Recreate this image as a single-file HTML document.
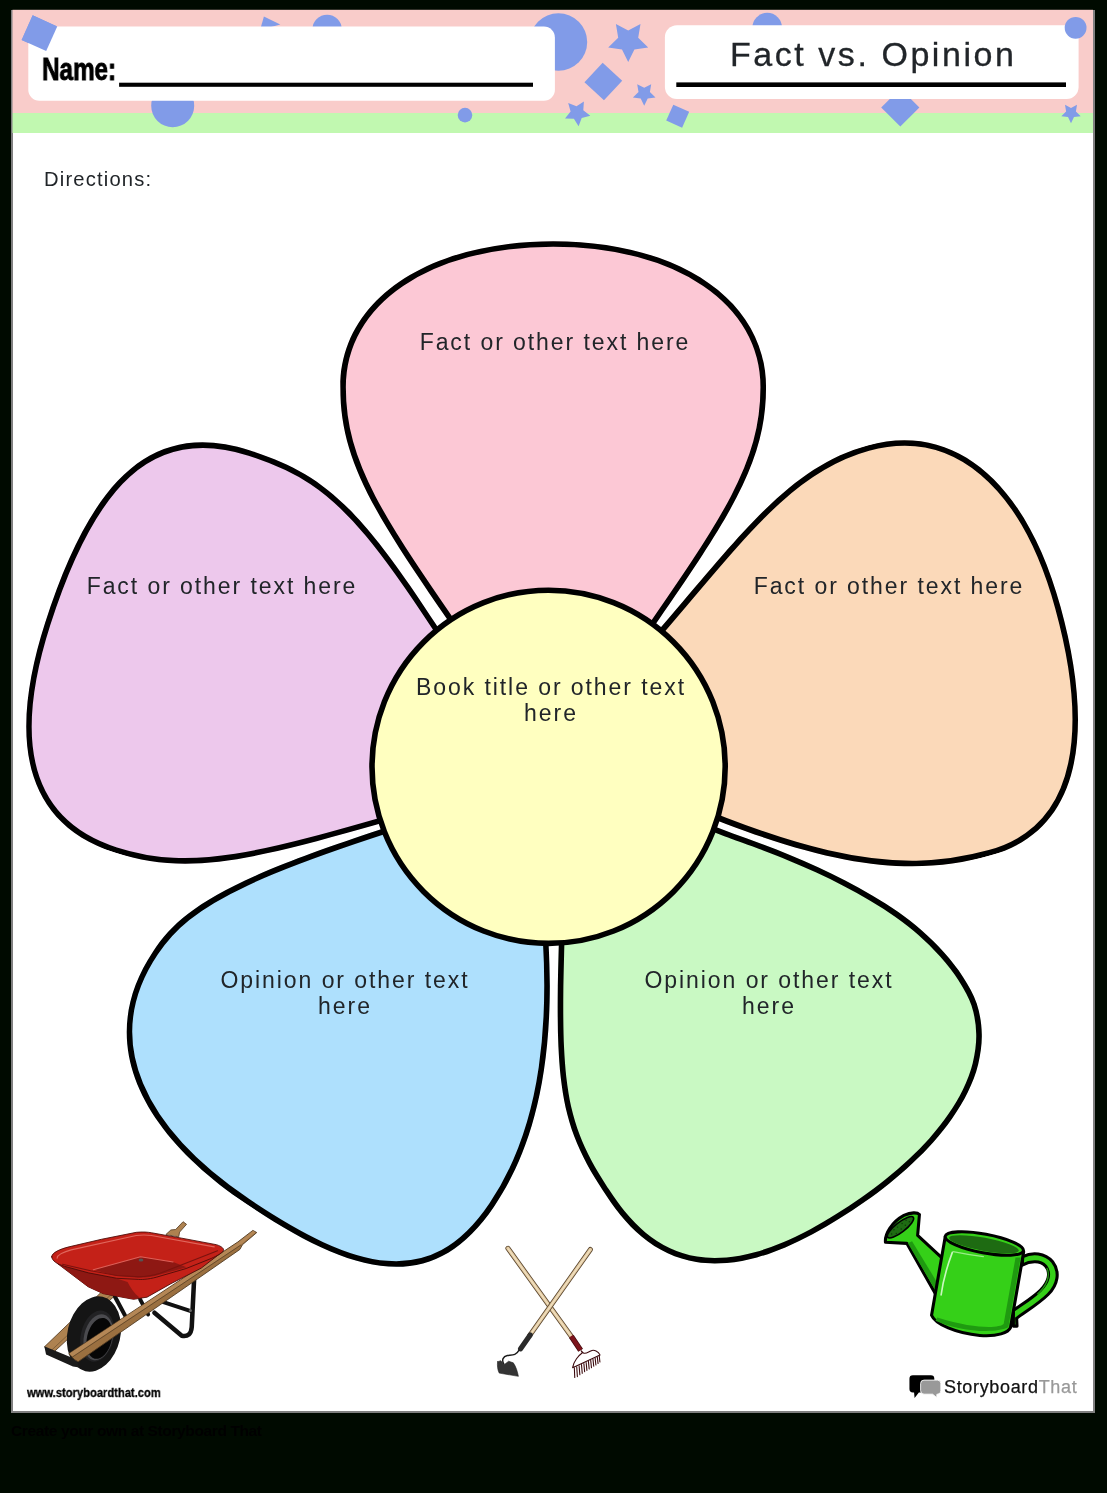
<!DOCTYPE html>
<html><head><meta charset="utf-8"><title>Fact vs. Opinion</title>
<style>
html,body{margin:0;padding:0;background:#000a00;}
body{width:1107px;height:1493px;position:relative;overflow:hidden;font-family:"Liberation Sans",sans-serif;}
#page{position:absolute;left:11px;top:9.8px;width:1084px;height:1403.2px;background:#808080;}
#paper{position:absolute;left:1.5px;top:0;width:1080.5px;height:1401.2px;background:#fff;}
svg{position:absolute;left:0;top:0;}
.t{position:absolute;white-space:nowrap;color:#212529;text-align:center;will-change:transform;}
.pt{font-size:23px;letter-spacing:1.93px;line-height:26px;transform:translateX(-50%);}
</style></head><body>
<div id="page"><div id="paper"></div></div>
<svg width="1107" height="1493" viewBox="0 0 1107 1493">
<defs><clipPath id="ctop"><path d="M0.0,-532.6C124.6,-532.6 212.9,-474.2 212.9,-386.6C212.9,-287.3 150.7,-224.9 0.0,0.0C-150.7,-224.9 -212.9,-287.3 -212.9,-386.6C-212.9,-474.2 -124.6,-532.6 0.0,-532.6Z"/></clipPath><clipPath id="cright"><path d="M0.0,-525.3C119.0,-525.3 221.0,-492.4 221.0,-391.5C221.0,-294.4 180.0,-199.7 0.0,0.0C-118.2,-199.4 -206.9,-275.1 -206.9,-382.1C-206.9,-472.7 -129.4,-525.3 0.0,-525.3Z"/></clipPath><clipPath id="cbr"><path d="M864.5,1202.1C856.3,1207.9 848.1,1213.3 839.5,1218.6C830.9,1224.0 822.0,1229.3 813.0,1234.1C803.9,1238.9 794.6,1243.5 785.3,1247.4C775.9,1251.3 766.7,1254.8 757.0,1257.4C747.3,1260.0 737.0,1262.3 726.9,1263.0C716.7,1263.8 706.1,1263.7 696.2,1262.1C686.4,1260.4 676.7,1257.5 667.7,1253.3C658.6,1249.0 649.7,1243.2 641.8,1236.7C634.0,1230.3 626.8,1222.6 620.4,1214.9C613.9,1207.1 608.5,1198.9 602.9,1190.5C597.4,1182.0 591.8,1173.2 587.0,1164.2C582.2,1155.2 577.7,1145.7 574.2,1136.3C570.6,1126.9 567.9,1117.4 565.6,1107.6C563.4,1097.7 561.9,1087.4 560.7,1077.3C559.5,1067.1 558.9,1056.7 558.4,1046.6C557.9,1036.5 557.8,1026.8 557.7,1016.7C557.6,1006.5 557.7,996.2 557.8,985.9C558.0,975.7 558.2,965.3 558.5,955.2C558.7,945.1 559.1,935.3 559.4,925.2C559.7,915.1 560.1,904.8 560.5,894.5C560.8,884.3 561.2,873.9 561.6,863.8C562.0,853.7 562.4,844.0 562.7,833.9C563.1,823.7 563.5,813.4 563.9,803.1C564.2,792.9 560.6,776.5 565.0,772.4C569.4,768.4 581.2,776.0 590.2,778.9C599.2,781.8 609.4,786.2 618.9,789.8C628.5,793.4 638.2,797.1 647.6,800.8C657.1,804.4 666.2,807.9 675.6,811.5C685.1,815.1 694.7,818.9 704.3,822.6C713.9,826.2 723.5,830.0 733.0,833.5C742.5,837.0 751.7,840.2 761.2,843.8C770.7,847.4 780.4,851.0 789.9,855.0C799.4,858.9 808.9,863.0 818.1,867.3C827.3,871.5 836.2,875.8 845.2,880.5C854.2,885.1 863.4,890.1 872.2,895.4C881.1,900.6 890.0,906.2 898.3,912.1C906.6,918.0 914.5,924.0 922.1,930.7C929.8,937.4 937.3,944.8 944.1,952.5C950.9,960.2 957.6,968.4 963.0,976.9C968.5,985.5 973.6,994.2 976.8,1003.7C979.9,1013.2 981.6,1023.9 981.8,1033.9C982.1,1044.0 980.5,1054.5 978.2,1064.2C975.9,1073.8 972.2,1083.0 967.9,1092.1C963.6,1101.1 958.1,1110.0 952.3,1118.3C946.6,1126.7 939.9,1134.7 933.3,1142.3C926.6,1149.8 919.7,1156.7 912.3,1163.6C905.0,1170.5 897.1,1177.3 889.1,1183.7C881.2,1190.2 872.8,1196.3 864.5,1202.1Z"/></clipPath><clipPath id="cbl"><path d="M0.0,-504.6C124.9,-504.6 218.0,-456.6 218.0,-346.8C218.0,-286.3 190.9,-227.4 0.0,0.0C-181.6,-181.0 -207.3,-298.1 -207.3,-368.5C-207.3,-479.7 -127.8,-504.6 0.0,-504.6Z"/></clipPath><clipPath id="cleft"><path d="M0.0,-513.3C146.6,-513.3 227.3,-476.8 227.3,-370.7C227.3,-268.5 193.1,-225.6 0.0,0.0C-134.7,-207.1 -197.0,-274.5 -197.0,-376.3C-197.0,-483.6 -104.1,-513.3 0.0,-513.3Z"/></clipPath></defs>
<rect x="12.5" y="9.8" width="1080.5" height="103.2" fill="#F9CCCA"/>
<rect x="12.5" y="113" width="1080.5" height="20" fill="#C1F8B0"/>
<g fill="#819BE8"><rect x="26.0" y="19.7" width="26.9" height="26.9" transform="rotate(24.2 39.45 33.1)"/><circle cx="172.7" cy="105.7" r="21.5"/><polygon points="263.9,16.4 280.3,24.5 260.1,30"/><circle cx="327.1" cy="29.4" r="14.7"/><circle cx="465" cy="115.1" r="7.3"/><circle cx="558.4" cy="42" r="28.8"/><polygon points="628.2,61.9 622.0,49.4 608.2,47.4 618.2,37.7 615.9,23.9 628.2,30.4 640.5,23.9 638.2,37.7 648.2,47.4 634.4,49.4"/><rect x="590.0" y="68.2" width="26.7" height="26.7" transform="rotate(43 603.4 81.5)"/><polygon points="644.2,105.7 640.7,98.6 632.9,97.5 638.5,92.0 637.2,84.2 644.2,87.8 651.2,84.2 649.9,92.0 655.5,97.5 647.7,98.6"/><polygon points="578.6,126.3 573.9,118.8 565.0,118.5 570.6,111.6 568.2,103.0 576.5,106.3 583.9,101.4 583.3,110.3 590.3,115.8 581.7,118.0"/><rect x="669.0" y="107.5" width="17.4" height="17.4" transform="rotate(24 677.7 116.2)"/><circle cx="767.2" cy="27.6" r="14.8"/><rect x="886.8" y="94.0" width="27" height="27" transform="rotate(45 900.3 107.5)"/><polygon points="1071.0,123.2 1068.0,117.1 1061.3,116.2 1066.1,111.4 1065.0,104.7 1071.0,107.9 1077.0,104.7 1075.9,111.4 1080.7,116.2 1074.0,117.1"/></g>
<rect x="28.3" y="26.6" width="526.6" height="74.1" rx="11" fill="#fff"/>
<rect x="664.9" y="25.3" width="413.7" height="73.8" rx="12" fill="#fff"/>
<g fill="#819BE8"><circle cx="1075.6" cy="27.8" r="10.9"/><rect x="26.0" y="19.7" width="26.9" height="26.9" transform="rotate(24.2 39.45 33.1)"/></g>
<rect x="119.1" y="82.7" width="413.9" height="4.1" fill="#000"/>
<rect x="676.3" y="82.4" width="389.7" height="4.6" fill="#000"/>
<g transform="translate(553.15,773.8) rotate(0)"><path d="M0.0,-532.6C124.6,-532.6 212.9,-474.2 212.9,-386.6C212.9,-287.3 150.7,-224.9 0.0,0.0C-150.7,-224.9 -212.9,-287.3 -212.9,-386.6C-212.9,-474.2 -124.6,-532.6 0.0,-532.6Z" fill="#FCC8D5" stroke="#000" stroke-width="11.2" clip-path="url(#ctop)"/></g>
<g transform="translate(554.1,746.19) rotate(74.63)"><path d="M0.0,-525.3C119.0,-525.3 221.0,-492.4 221.0,-391.5C221.0,-294.4 180.0,-199.7 0.0,0.0C-118.2,-199.4 -206.9,-275.1 -206.9,-382.1C-206.9,-472.7 -129.4,-525.3 0.0,-525.3Z" fill="#FBD9B9" stroke="#000" stroke-width="11.2" clip-path="url(#cright)"/></g>
<g transform="translate(0,0) rotate(0)"><path d="M864.5,1202.1C856.3,1207.9 848.1,1213.3 839.5,1218.6C830.9,1224.0 822.0,1229.3 813.0,1234.1C803.9,1238.9 794.6,1243.5 785.3,1247.4C775.9,1251.3 766.7,1254.8 757.0,1257.4C747.3,1260.0 737.0,1262.3 726.9,1263.0C716.7,1263.8 706.1,1263.7 696.2,1262.1C686.4,1260.4 676.7,1257.5 667.7,1253.3C658.6,1249.0 649.7,1243.2 641.8,1236.7C634.0,1230.3 626.8,1222.6 620.4,1214.9C613.9,1207.1 608.5,1198.9 602.9,1190.5C597.4,1182.0 591.8,1173.2 587.0,1164.2C582.2,1155.2 577.7,1145.7 574.2,1136.3C570.6,1126.9 567.9,1117.4 565.6,1107.6C563.4,1097.7 561.9,1087.4 560.7,1077.3C559.5,1067.1 558.9,1056.7 558.4,1046.6C557.9,1036.5 557.8,1026.8 557.7,1016.7C557.6,1006.5 557.7,996.2 557.8,985.9C558.0,975.7 558.2,965.3 558.5,955.2C558.7,945.1 559.1,935.3 559.4,925.2C559.7,915.1 560.1,904.8 560.5,894.5C560.8,884.3 561.2,873.9 561.6,863.8C562.0,853.7 562.4,844.0 562.7,833.9C563.1,823.7 563.5,813.4 563.9,803.1C564.2,792.9 560.6,776.5 565.0,772.4C569.4,768.4 581.2,776.0 590.2,778.9C599.2,781.8 609.4,786.2 618.9,789.8C628.5,793.4 638.2,797.1 647.6,800.8C657.1,804.4 666.2,807.9 675.6,811.5C685.1,815.1 694.7,818.9 704.3,822.6C713.9,826.2 723.5,830.0 733.0,833.5C742.5,837.0 751.7,840.2 761.2,843.8C770.7,847.4 780.4,851.0 789.9,855.0C799.4,858.9 808.9,863.0 818.1,867.3C827.3,871.5 836.2,875.8 845.2,880.5C854.2,885.1 863.4,890.1 872.2,895.4C881.1,900.6 890.0,906.2 898.3,912.1C906.6,918.0 914.5,924.0 922.1,930.7C929.8,937.4 937.3,944.8 944.1,952.5C950.9,960.2 957.6,968.4 963.0,976.9C968.5,985.5 973.6,994.2 976.8,1003.7C979.9,1013.2 981.6,1023.9 981.8,1033.9C982.1,1044.0 980.5,1054.5 978.2,1064.2C975.9,1073.8 972.2,1083.0 967.9,1092.1C963.6,1101.1 958.1,1110.0 952.3,1118.3C946.6,1126.7 939.9,1134.7 933.3,1142.3C926.6,1149.8 919.7,1156.7 912.3,1163.6C905.0,1170.5 897.1,1177.3 889.1,1183.7C881.2,1190.2 872.8,1196.3 864.5,1202.1Z" fill="#C9F9C3" stroke="#000" stroke-width="11.2" clip-path="url(#cbr)"/></g>
<g transform="translate(527.62,784.92) rotate(-146.1)"><path d="M0.0,-504.6C124.9,-504.6 218.0,-456.6 218.0,-346.8C218.0,-286.3 190.9,-227.4 0.0,0.0C-181.6,-181.0 -207.3,-298.1 -207.3,-368.5C-207.3,-479.7 -127.8,-504.6 0.0,-504.6Z" fill="#AEE0FD" stroke="#000" stroke-width="11.2" clip-path="url(#cbl)"/></g>
<g transform="translate(533.75,780.06) rotate(-72.22)"><path d="M0.0,-513.3C146.6,-513.3 227.3,-476.8 227.3,-370.7C227.3,-268.5 193.1,-225.6 0.0,0.0C-134.7,-207.1 -197.0,-274.5 -197.0,-376.3C-197.0,-483.6 -104.1,-513.3 0.0,-513.3Z" fill="#EDC8EC" stroke="#000" stroke-width="11.2" clip-path="url(#cleft)"/></g>

<circle cx="548.6" cy="766.8" r="176.6" fill="#FFFFC0" stroke="#000" stroke-width="5.6"/>
<g transform="translate(30,1210) scale(0.2168)" stroke-linejoin="round" stroke-linecap="round">
<!-- back handle top -->
<path d="M628,112 L650,92 L672,90 L706,54 L722,66 L690,102 L686,122 Z" fill="#AE8250" stroke="#5a4025" stroke-width="4"/>
<!-- back rail lower -->
<path d="M68,630 L330,378 L388,398 L110,655 Z" fill="#AE8250" stroke="#5a4025" stroke-width="4"/>
<path d="M98,648 L372,392" stroke="#7a5a35" stroke-width="4" fill="none"/>
<!-- legs -->
<path d="M757,318 L746,540 Q742,588 700,580 L574,474" fill="none" stroke="#111" stroke-width="21"/>
<path d="M612,424 L742,466" fill="none" stroke="#111" stroke-width="18"/>
<path d="M508,412 L545,482" fill="none" stroke="#111" stroke-width="18"/>
<path d="M392,400 L438,486" fill="none" stroke="#111" stroke-width="19"/>
<circle cx="740" cy="464" r="7" fill="#666"/>
<!-- wheel -->
<g transform="rotate(13 295 572)">
<ellipse cx="295" cy="572" rx="122" ry="176" fill="#151515"/>
<ellipse cx="312" cy="578" rx="76" ry="120" fill="#222224"/>
<ellipse cx="318" cy="582" rx="66" ry="108" fill="#4a4a4e"/>
<ellipse cx="324" cy="586" rx="57" ry="96" fill="#060606"/>
</g>
<!-- cross bar -->
<path d="M66,628 L88,638 L214,690 L228,726 L198,722 L74,666 Z" fill="#1a1a1a"/>
<!-- front rail -->
<path d="M180,662 L958,148 L1028,94 L1046,104 L980,160 L968,182 L222,700 L205,690 Z" fill="#9B7040" stroke="#4f3820" stroke-width="4"/>
<path d="M182,662 L960,150 L1030,96 L1040,104 L972,160 L196,676 Z" fill="#B48756"/>
<path d="M196,678 L972,162" stroke="#5f4528" stroke-width="4" fill="none"/>
<!-- tray body -->
<path d="M128,248 L268,354 L338,386 L478,412 L540,402 L650,340 L790,268 L888,192 L600,300 L400,310 Z" fill="#C42118" stroke="#4a0c08" stroke-width="4"/>
<path d="M140,256 L268,354 L338,386 L478,412 L505,404 C480,385 465,360 450,332 L400,316 Z" fill="#8E1813"/>
<!-- tray rim/interior -->
<path d="M100,216 C100,196 140,180 180,170 L330,135 L490,103 C520,100 545,102 560,105 L700,130 L860,160 C885,168 896,178 892,188 C885,200 850,218 830,226 L720,270 L600,305 C560,318 520,322 500,320 L400,315 L270,290 L160,260 C125,250 102,235 100,216 Z" fill="#C42118" stroke="#4a0c08" stroke-width="4"/>
<path d="M292,276 L510,216 L660,240 L722,264 L600,298 C560,310 520,314 500,312 L400,305 Z" fill="#8E1813"/>
<path d="M292,276 L510,216 L660,240" fill="none" stroke="#DD6058" stroke-width="5"/>
<path d="M125,222 C125,205 150,195 190,184 L490,118 C520,114 545,116 560,118 L850,170" fill="none" stroke="#E0665C" stroke-width="5"/>
<path d="M150,250 L280,280 L400,302 L500,308 C540,308 570,302 600,292 L865,188" fill="none" stroke="#7a120e" stroke-width="5"/>
<ellipse cx="512" cy="231" rx="11" ry="7" fill="#555"/>
</g>

<g stroke-linecap="round" stroke-linejoin="round" fill="none">
<!-- rake handle (behind) -->
<path d="M507.9,1248.3 L571.4,1336.5" stroke="#5d482f" stroke-width="5"/>
<path d="M507.9,1248.3 L571.4,1336.5" stroke="#E3CBA3" stroke-width="3.3"/>
<path d="M508.4,1249 L571,1336" stroke="#F1E0C0" stroke-width="1.2"/>
<!-- rake ferrule + head -->
<path d="M571.4,1336.5 L580.6,1350.2" stroke="#3d090d" stroke-width="5.6" stroke-linecap="butt"/>
<path d="M571.2,1336.2 L580.6,1350.2" stroke="#7d151c" stroke-width="4.2" stroke-linecap="butt"/>
<g transform="translate(490,1320) scale(0.1084)" stroke="#3a080c" stroke-width="10">
<path d="M842,285 L852,302 C820,325 770,380 762,440 L1015,322 C1000,290 960,270 930,285 C900,300 880,315 862,305 Z"/>
<path d="M778,440 L782,530 M800,432 L806,522 M822,422 L829,505 M844,412 L851,492 M866,402 L873,478 M887,392 L894,465 M908,382 L915,452 M929,372 L936,440 M950,362 L957,427 M970,352 L977,415 M990,342 L997,402 M1008,332 L1014,388"/>
</g>
<!-- hoe handle (front) -->
<path d="M590.4,1249.5 L529.6,1335.6" stroke="#5d482f" stroke-width="5"/>
<path d="M590.4,1249.5 L529.6,1335.6" stroke="#E3CBA3" stroke-width="3.3"/>
<path d="M590,1250.2 L530,1335" stroke="#F1E0C0" stroke-width="1.2"/>
<path d="M530.2,1335 L520.6,1348.8" stroke="#2b2b2b" stroke-width="5.2"/>
<g transform="translate(490,1320) scale(0.1084)">
<path d="M268,278 C240,330 200,322 160,328 C120,335 105,370 128,408" stroke="#1a1a1a" stroke-width="13"/>
<path d="M70,385 L100,375 L130,412 L172,380 L215,395 C240,430 255,480 262,520 L85,490 C70,460 65,420 70,385 Z" fill="#343434" stroke="#1c1c1c" stroke-width="5"/>
</g>
</g>

<g transform="translate(875,1200) scale(0.18067)" stroke-linejoin="round" stroke-linecap="round">
<path d="M818,314 C870,287 940,292 983,342 C1026,397 1012,470 958,523 C908,573 830,620 784,655 L786,698 L766,698 L766,612 C800,585 870,545 915,500 C960,455 975,405 945,367 C915,333 860,337 815,360 Z" fill="#35D018" stroke="#000" stroke-width="17"/>
<path d="M900,520 C950,475 972,420 952,378" fill="none" stroke="#1F9A10" stroke-width="7"/>
<path d="M58,234 C53,190 92,122 160,85 C200,67 235,68 246,80 L236,196 L372,322 L372,420 L335,520 L176,240 Z" fill="#35D018" stroke="#000" stroke-width="17"/>
<path d="M182,240 L343,515 L352,470 L205,228 Z" fill="#1F9A10"/>
<ellipse cx="141" cy="151" rx="90" ry="27" transform="rotate(-38 141 151)" fill="#1E6B12" stroke="#000" stroke-width="9"/>
<g fill="#0c3a08"><circle cx="105" cy="165" r="4"/><circle cx="125" cy="150" r="4"/><circle cx="150" cy="130" r="4"/><circle cx="172" cy="112" r="4"/><circle cx="118" cy="185" r="4"/><circle cx="145" cy="160" r="4"/><circle cx="168" cy="140" r="4"/><circle cx="190" cy="120" r="4"/><circle cx="92" cy="188" r="4"/></g>
<path d="M388,207 L313,638 C333,688 450,738 580,750 C680,758 738,733 750,706 L823,287 Z" fill="#35D018" stroke="#000" stroke-width="17"/>
<path d="M778,318 L712,686 C690,708 560,718 345,650 L335,668 C450,722 650,745 738,705 L806,318 Z" fill="#1F9A10"/>
<path d="M428,290 C398,370 376,450 366,525" fill="none" stroke="#C9F7BE" stroke-width="9"/>
<path d="M432,286 C480,296 540,306 600,313" fill="none" stroke="#9BEC89" stroke-width="7"/>
<ellipse cx="605" cy="241" rx="220" ry="52" transform="rotate(10.5 605 241)" fill="#35D018" stroke="#000" stroke-width="17"/>
<ellipse cx="603" cy="245" rx="196" ry="36" transform="rotate(10.5 603 245)" fill="#1E6B12"/>
</g>

<g transform="translate(900,1365) scale(0.17164)">
<path d="M75,60 H180 Q200,60 200,80 V140 Q200,160 180,160 H110 L85,192 L82,160 H75 Q55,160 55,140 V80 Q55,60 75,60 Z" fill="#000"/>
<path d="M140,88 H218 Q238,88 238,108 V150 Q238,170 218,170 H215 L214,190 L190,170 H140 Q120,170 120,150 V108 Q120,88 140,88 Z" fill="#999" stroke="#fff" stroke-width="5"/>
</g>

</svg>
<div class="t" id="name" style="left:41.6px;top:51.8px;font-weight:bold;font-size:30.5px;color:#000;transform-origin:0 0;transform:scaleX(0.795);-webkit-text-stroke:0.9px #000;">Name:</div>
<div class="t" id="title" style="left:729.9px;top:35.3px;font-size:34px;letter-spacing:2.55px;-webkit-text-stroke:0.3px #212529;">Fact vs. Opinion</div>
<div class="t" id="dir" style="left:43.5px;top:168.2px;font-size:20.2px;letter-spacing:1.17px;">Directions:</div>
<div class="t pt" id="p1" style="left:554.5px;top:329.4px;">Fact or other text here</div>
<div class="t pt" id="p2" style="left:221.7px;top:573.4px;">Fact or other text here</div>
<div class="t pt" id="p3" style="left:888.6px;top:573.4px;">Fact or other text here</div>
<div class="t pt" id="p4" style="left:551px;top:674.4px;">Book title or other text<br>here</div>
<div class="t pt" id="p5" style="left:345px;top:966.5px;">Opinion or other text<br>here</div>
<div class="t pt" id="p6" style="left:768.9px;top:966.5px;">Opinion or other text<br>here</div>
<div class="t" id="www" style="left:27.1px;top:1384.8px;font-weight:bold;font-size:13px;color:#000;transform-origin:0 0;transform:scaleX(0.86);-webkit-text-stroke:0.3px #000;">www.storyboardthat.com</div>
<div class="t" id="sbt" style="left:944px;top:1376.8px;font-size:18px;letter-spacing:0.66px;color:#111;-webkit-text-stroke:0.25px currentColor;">Storyboard<span style="color:#999;-webkit-text-stroke:0.25px #999">That</span></div>
<div class="t" id="create" style="left:10.8px;top:1421.5px;font-weight:bold;font-size:15.5px;letter-spacing:-0.38px;color:#000;">Create your own at Storyboard That</div>
</body></html>
